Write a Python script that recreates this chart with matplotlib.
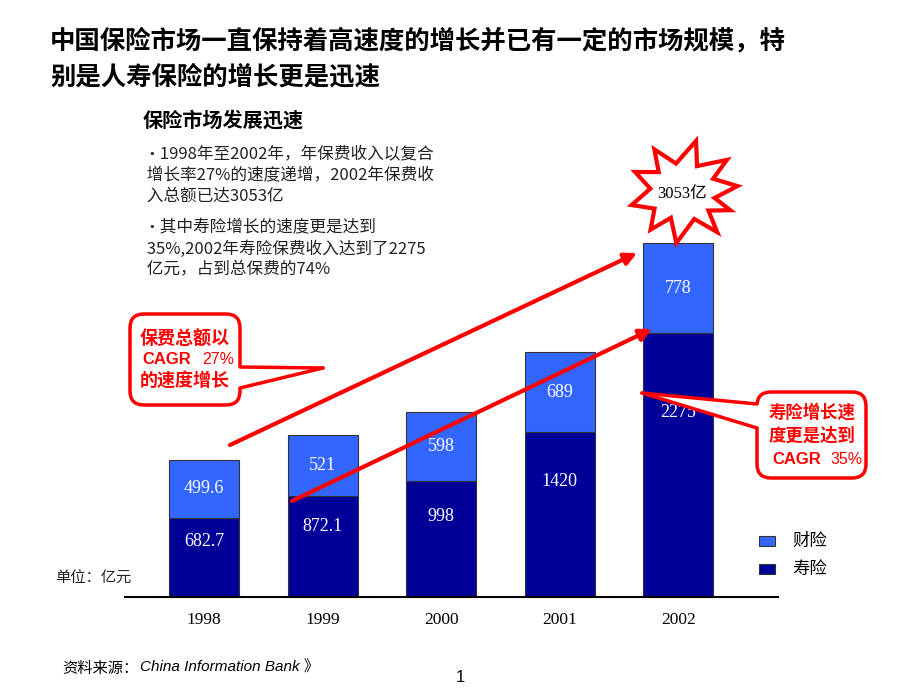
import matplotlib
matplotlib.use('Agg')
import matplotlib.pyplot as plt
from matplotlib.patches import FancyBboxPatch, Polygon
import numpy as np

# ---- data ----
years = ['1998', '1999', '2000', '2001', '2002']
life = [682.7, 872.1, 998, 1420, 2275]          # 寿险
prop = [499.6, 521, 598, 689, 778]              # 财险
life_labels = ['682.7', '872.1', '998', '1420', '2275']
prop_labels = ['499.6', '521', '598', '689', '778']
legend_labels = ['财险', '寿险']
total_label = '3053亿'

title = '中国保险市场一直保持着高速度的增长并已有一定的市场规模，特\n别是人寿保险的增长更是迅速'
subtitle = '保险市场发展迅速'
bullets = [
    ('•1998年至2002年，年保费收入以复合', 155),
    (' 增长率27%的速度递增，2002年保费收', 175),
    (' 入总额已达3053亿', 196),
    ('•其中寿险增长的速度更是达到', 228),
    (' 35%,2002年寿险保费收入达到了2275', 249),
    (' 亿元，占到总保费的74%', 270),
]

CJK = ['Noto Sans CJK SC', 'DejaVu Sans']
SERIF = ['Liberation Serif', 'Noto Sans CJK SC']
plt.rcParams['font.family'] = CJK

W, H = 920, 690
fig = plt.figure(figsize=(9.2, 6.9), dpi=100)

light = '#3366FF'
dark = '#000099'
red = '#FF0000'

# ---- bar chart ----
ax = fig.add_axes([125 / W, 1 - 597 / H, (778 - 125) / W, 382.6 / H])
x = np.arange(len(years))
ax.bar(x, life, width=0.59, color=dark, edgecolor='#333333', lw=0.8, zorder=2)
ax.bar(x, prop, bottom=life, width=0.59, color=light, edgecolor='#333333', lw=0.8, zorder=2)
ax.set_xlim(-0.666, 4.84)
ax.set_ylim(0, 3300)
for s in ['top', 'right', 'left']:
    ax.spines[s].set_visible(False)
ax.spines['bottom'].set_linewidth(1.5)
ax.set_yticks([])
ax.set_xticks(x)
ax.set_xticklabels(years, fontfamily=SERIF, fontsize=12.5)
ax.tick_params(axis='x', length=0, pad=11)
for i in range(len(years)):
    ax.text(x[i], life[i] * 0.7, life_labels[i], color='white', ha='center', va='center',
            fontfamily=SERIF, fontsize=13, zorder=3)
    ax.text(x[i], life[i] + prop[i] / 2, prop_labels[i], color='white', ha='center', va='center',
            fontfamily=SERIF, fontsize=13, zorder=3)

# ---- overlay in pixel coordinates ----
ov = fig.add_axes([0, 0, 1, 1], zorder=5)
ov.set_xlim(0, W)
ov.set_ylim(H, 0)
ov.axis('off')
ov.patch.set_visible(False)

ov.text(50, 59, title, fontsize=18.3, fontweight='bold', ha='left', va='center', linespacing=1.4)
ov.text(143, 120, subtitle, fontsize=14.5, fontweight='bold', ha='left', va='center')
for t, yy in bullets:
    ov.text(143, yy, t, fontsize=12, ha='left', va='center', color='#222222')

# legend
for lab, col, yy in [(legend_labels[0], light, 541), (legend_labels[1], dark, 569)]:
    ov.add_patch(plt.Rectangle((759, yy - 5), 16, 10, facecolor=col, edgecolor='#333333', lw=0.8))
    ov.text(792, yy, lab, fontsize=12.5, ha='left', va='center')

ov.text(55, 578, '单位：亿元', fontsize=11, ha='left', va='center', color='#222222')
ov.text(62, 668, '资料来源：', fontsize=11, ha='left', va='center', style='italic')
ov.text(140, 668, 'China Information Bank 》', fontsize=11, ha='left', va='center',
        style='italic', family=['Liberation Sans', 'Noto Sans CJK SC'])
ov.text(460, 677, '1', fontsize=12, ha='center', va='center', family=['Liberation Sans'])

# red arrows
arrow_kw = dict(arrowstyle='-|>', color=red, lw=3, mutation_scale=18, shrinkA=0, shrinkB=0)
ov.annotate('', xy=(637, 253), xytext=(230, 445), arrowprops=arrow_kw)
ov.annotate('', xy=(652, 329), xytext=(292, 501), arrowprops=arrow_kw)

# starburst (decorative shape)
cx, cy = 684, 193
ang = np.deg2rad(np.array([-78, -66, -40, -28, -8, 10, 22, 38, 52, 70, 98, 116, 130, 150, 166, 188, 205, 222, 238, 256]))
rad = np.array([58, 32, 56, 33, 54, 31, 50, 31, 54, 30, 55, 30, 52, 34, 54, 34, 54, 34, 56, 33])
px = cx + rad * np.cos(ang)
py = cy + rad * np.sin(ang) * 0.92
pts = list(zip(px, py))
ov.add_patch(Polygon(pts, closed=True, facecolor='white', edgecolor=red, lw=3, zorder=4,
                     joinstyle='miter'))
ov.text(cx - 2, cy + 1, total_label, fontsize=12, ha='center', va='center', family=SERIF, zorder=5)


def callout(x0, y0, x1, y1, tail_top, tail_bot, tip, side):
    box = FancyBboxPatch((x0, y0), x1 - x0, y1 - y0, boxstyle='round,pad=0,rounding_size=14',
                         facecolor='white', edgecolor=red, lw=2.5, zorder=6)
    ov.add_patch(box)
    xe = x1 if side == 'right' else x0
    inner = xe - 3 if side == 'right' else xe + 3
    ov.add_patch(Polygon([(inner, tail_top), tip, (inner, tail_bot)], closed=True,
                         facecolor='white', edgecolor='none', zorder=7))
    ov.plot([xe, tip[0]], [tail_top, tip[1]], color=red, lw=2.5, zorder=8, solid_capstyle='round')
    ov.plot([xe, tip[0]], [tail_bot, tip[1]], color=red, lw=2.5, zorder=8, solid_capstyle='round')


callout(130, 314, 240, 405, 367, 388, (323, 368), 'right')
callout(757, 392, 866, 478, 404, 428, (642, 393), 'left')

# callout 1 text
ov.text(185, 339, '保费总额以', color=red, fontsize=13, fontweight='bold', ha='center', va='center', zorder=9)
ov.text(142, 360, 'CAGR', color=red, fontsize=12, fontweight='bold', ha='left', va='center',
        family=['Liberation Sans'], zorder=9)
ov.text(202, 360, '27%', color=red, fontsize=11.5, ha='left', va='center',
        family=['Liberation Sans'], zorder=9)
ov.text(185, 381, '的速度增长', color=red, fontsize=13, fontweight='bold', ha='center', va='center', zorder=9)

# callout 2 text
ov.text(812, 413, '寿险增长速', color=red, fontsize=12.5, fontweight='bold', ha='center', va='center', zorder=9)
ov.text(812, 436, '度更是达到', color=red, fontsize=12.5, fontweight='bold', ha='center', va='center', zorder=9)
ov.text(772, 459, 'CAGR', color=red, fontsize=12, fontweight='bold', ha='left', va='center',
        family=['Liberation Sans'], zorder=9)
ov.text(830, 459, '35%', color=red, fontsize=11.5, ha='left', va='center',
        family=['Liberation Sans'], zorder=9)

fig.savefig('out.png', dpi=100, facecolor='white')
